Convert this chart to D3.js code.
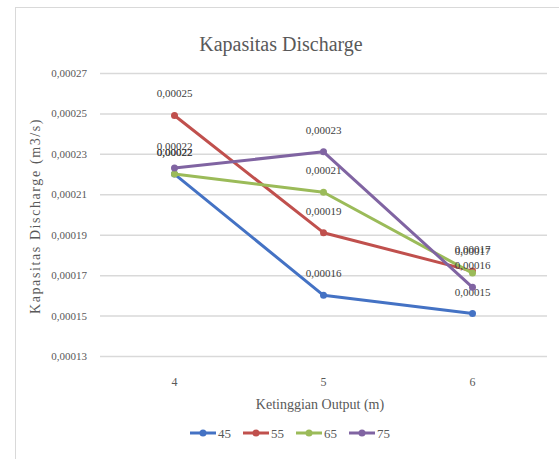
<!DOCTYPE html>
<html>
<head>
<meta charset="utf-8">
<script src="https://cdn.jsdelivr.net/npm/d3@7"></script>
<style>
  body { margin: 0; background: #fff; }
</style>
</head>
<body>
<div id="chart"></div>
<script>
// data
const categories = ['4', '5', '6'];
const seriesNames = ['45', '55', '65', '75'];
const values45 = [0.00022, 0.00016, 0.000151];
const values55 = [0.000249, 0.000191, 0.000172];
const values65 = [0.00022, 0.000211, 0.000171];
const values75 = [0.000223, 0.000231, 0.000164];
const yTicks = [0.00013, 0.00015, 0.00017, 0.00019, 0.00021, 0.00023, 0.00025, 0.00027];
const colors = ['#4472C4', '#C0504D', '#9BBB59', '#8064A2'];

const series = [values45, values55, values65, values75].map((v, i) => ({
    name: seriesNames[i], values: v, color: colors[i]
}));

const FONT = '"Liberation Serif", "DejaVu Serif", serif';
const width = 559, height = 459;
const plotLeft = 100, plotRight = 547, plotTop = 73, plotBottom = 356;

const svg = d3.select('#chart')
    .append('svg')
    .attr('width', width)
    .attr('height', height)
    .attr('font-family', FONT);

// chart frame
svg.append('rect')
    .attr('x', 15.5).attr('y', 7.5)
    .attr('width', 560).attr('height', 470)
    .attr('fill', '#fff')
    .attr('stroke', '#d9d9d9');

const x = d3.scaleBand().domain(categories).range([plotLeft, plotRight]);
const y = d3.scaleLinear().domain([0.00013, 0.00027]).range([plotBottom, plotTop]);
const fmt = v => d3.format('.5f')(v).replace('.', ',');

// gridlines
svg.append('g')
    .selectAll('line')
    .data(yTicks)
    .join('line')
    .attr('x1', plotLeft).attr('x2', plotRight)
    .attr('y1', d => y(d) + 0.5).attr('y2', d => y(d) + 0.5)
    .attr('stroke', '#d9d9d9')
    .attr('stroke-width', 1.5);

// y axis labels
const yAxis = svg.append('g')
    .attr('transform', `translate(${plotLeft - 10},0)`)
    .call(d3.axisLeft(y).tickValues(yTicks).tickFormat(fmt).tickSize(0))
    .attr('font-family', FONT);
yAxis.select('.domain').remove();
yAxis.selectAll('text')
    .attr('fill', '#595959')
    .attr('font-size', 11);

// x axis labels
const xAxis = svg.append('g')
    .attr('transform', `translate(0,${plotBottom + 18})`)
    .call(d3.axisBottom(x).tickSize(0))
    .attr('font-family', FONT);
xAxis.select('.domain').remove();
xAxis.selectAll('text')
    .attr('fill', '#595959')
    .attr('font-size', 12);

// title
svg.append('text')
    .attr('x', 281).attr('y', 51)
    .attr('text-anchor', 'middle')
    .attr('fill', '#595959')
    .attr('font-size', 20)
    .text('Kapasitas Discharge');

// axis titles
svg.append('text')
    .attr('transform', 'translate(40,216) rotate(-90)')
    .attr('text-anchor', 'middle')
    .attr('fill', '#595959')
    .attr('font-size', 14)
    .attr('letter-spacing', 1.6)
    .text('Kapasitas Discharge (m3/s)');

svg.append('text')
    .attr('x', 320).attr('y', 409)
    .attr('text-anchor', 'middle')
    .attr('fill', '#595959')
    .attr('font-size', 14)
    .text('Ketinggian Output (m)');

// lines and markers
const cx = (d, i) => x(categories[i]) + x.bandwidth() / 2;
const line = d3.line().x(cx).y(d => y(d));

const g = svg.append('g')
    .selectAll('g')
    .data(series)
    .join('g');

g.append('path')
    .attr('d', d => line(d.values))
    .attr('fill', 'none')
    .attr('stroke', d => d.color)
    .attr('stroke-width', 3)
    .attr('stroke-linejoin', 'round');

g.selectAll('circle')
    .data(d => d.values.map(v => ({ v, color: d.color })))
    .join('circle')
    .attr('cx', (d, i) => cx(d.v, i))
    .attr('cy', d => y(d.v))
    .attr('r', 3.5)
    .attr('fill', d => d.color);

// data labels (they overlap in the original too)
g.selectAll('.lbl')
    .data(d => d.values)
    .join('text')
    .attr('class', 'lbl')
    .attr('x', (d, i) => cx(d, i))
    .attr('y', d => y(d) - 18)
    .attr('text-anchor', 'middle')
    .attr('fill', '#404040')
    .attr('font-size', 11)
    .text(fmt);

// legend
const legend = svg.append('g')
    .attr('transform', 'translate(190,433)');
const item = legend.selectAll('g')
    .data(series)
    .join('g')
    .attr('transform', (d, i) => `translate(${i * 53},0)`);
item.append('line')
    .attr('x1', 0).attr('x2', 26)
    .attr('stroke', d => d.color)
    .attr('stroke-width', 3);
item.append('circle')
    .attr('cx', 13).attr('r', 3.5)
    .attr('fill', d => d.color);
item.append('text')
    .attr('x', 28).attr('y', 4.5)
    .attr('fill', '#595959')
    .attr('font-size', 13)
    .text(d => d.name);
</script>
</body>
</html>
